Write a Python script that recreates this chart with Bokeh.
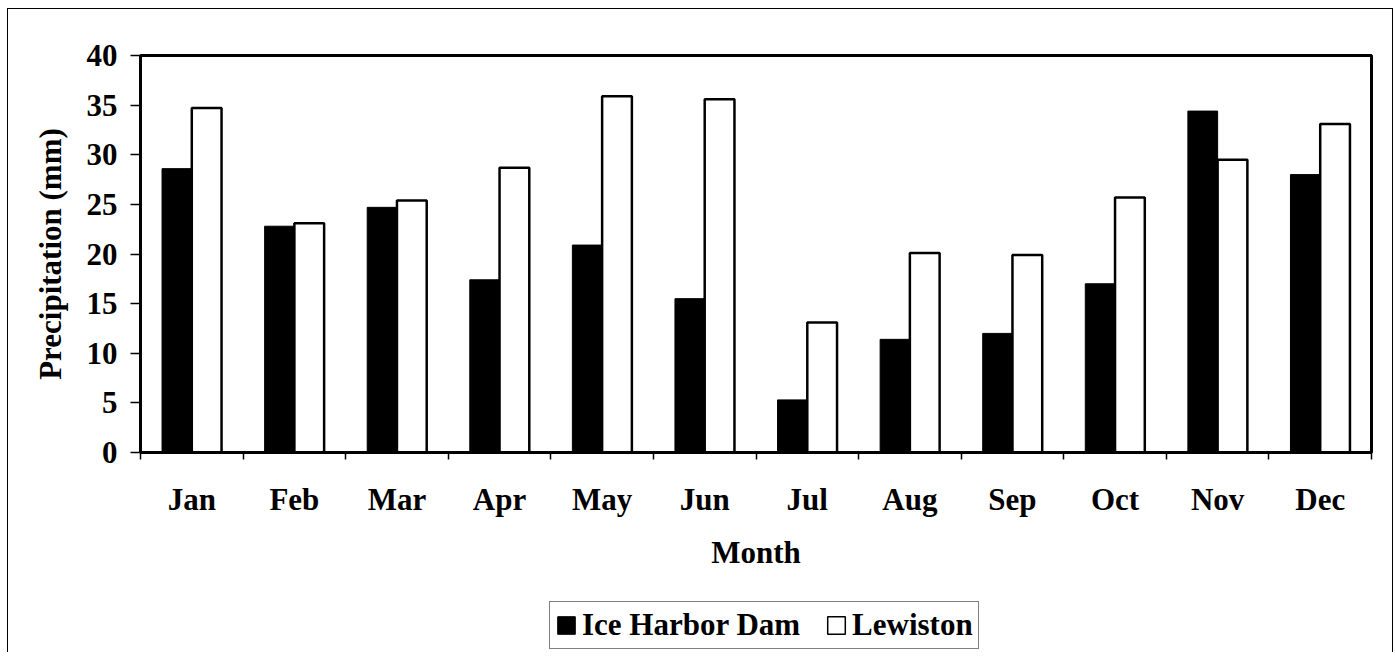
import numpy as np
from bokeh.plotting import figure
from bokeh.layouts import column
from bokeh.models import Range1d, FixedTicker, Legend, LegendItem, ColumnDataSource
from bokeh.embed import file_html
from bokeh.resources import INLINE

months = ["Jan", "Feb", "Mar", "Apr", "May", "Jun", "Jul", "Aug", "Sep", "Oct", "Nov", "Dec"]
ice_harbor = [28.6, 22.8, 24.7, 17.4, 20.9, 15.5, 5.3, 11.4, 12.0, 17.0, 34.4, 28.0]
lewiston = [34.7, 23.1, 25.4, 28.7, 35.9, 35.6, 13.1, 20.1, 19.9, 25.7, 29.5, 33.1]
y_ticks = [0, 5, 10, 15, 20, 25, 30, 35, 40]

FONT = "Liberation Serif"
FS = "31px"
BAR_W = 0.29

centers = np.arange(len(months)) + 0.5
src = ColumnDataSource(dict(
    xi=centers - BAR_W / 2, xl=centers + BAR_W / 2,
    ice=ice_harbor, lew=lewiston,
))

p = figure(frame_width=1231, frame_height=397, output_backend="svg", toolbar_location=None,
           x_range=Range1d(0, len(months)), y_range=Range1d(0, 40),
           min_border_left=132, min_border_right=21, min_border_top=46, min_border_bottom=120)

p.vbar(x="xi", top="ice", width=BAR_W, source=src, fill_color="black", line_color="black", line_width=1)
p.vbar(x="xl", top="lew", width=BAR_W, source=src, fill_color="white", line_color="black", line_width=2.5)

p.xgrid.visible = False
p.ygrid.visible = False
p.outline_line_color = "black"
p.outline_line_width = 3

# y axis
ya = p.yaxis[0]
ya.ticker = FixedTicker(ticks=y_ticks)
ya.minor_tick_line_color = None
ya.major_tick_out = 10
ya.major_tick_in = 0
ya.major_tick_line_width = 1.5
ya.axis_line_width = 2
ya.major_label_text_font = FONT
ya.major_label_text_font_style = "bold"
ya.major_label_text_font_size = FS
ya.major_label_text_color = "black"
ya.major_label_standoff = 13
ya.axis_label = "Precipitation (mm)"
ya.axis_label_text_font = FONT
ya.axis_label_text_font_style = "bold"
ya.axis_label_text_font_size = FS
ya.axis_label_text_color = "black"
ya.axis_label_standoff = 16

# x axis
xa = p.xaxis[0]
xa.ticker = FixedTicker(ticks=list(centers), minor_ticks=list(range(len(months) + 1)))
xa.major_label_overrides = {float(c): m for c, m in zip(centers, months)}
xa.major_tick_line_color = None
xa.major_tick_out = 0
xa.major_tick_in = 0
xa.minor_tick_out = 7
xa.minor_tick_in = 0
xa.minor_tick_line_width = 1.5
xa.axis_line_width = 3
xa.major_label_text_font = FONT
xa.major_label_text_font_style = "bold"
xa.major_label_text_font_size = FS
xa.major_label_text_color = "black"
xa.major_label_standoff = 22
xa.axis_label = "Month"
xa.axis_label_text_font = FONT
xa.axis_label_text_font_style = "bold"
xa.axis_label_text_font_size = FS
xa.axis_label_text_color = "black"
xa.axis_label_standoff = 15

# legend strip below the chart (hidden renderers, used only for the legend swatches)
q = figure(width=1384, height=80, output_backend="svg", toolbar_location=None,
           x_range=Range1d(0, len(months)), y_range=Range1d(0, 40),
           min_border=0, x_axis_location=None, y_axis_location=None)
q.outline_line_color = None
q.xgrid.visible = False
q.ygrid.visible = False
l1 = q.vbar(x="xi", top="ice", width=BAR_W, source=src, fill_color="black", line_color="black", line_width=1)
l2 = q.vbar(x="xl", top="lew", width=BAR_W, source=src, fill_color="white", line_color="black", line_width=1.5)
l1.visible = False
l2.visible = False

legend = Legend(items=[LegendItem(label="Ice Harbor Dam", renderers=[l1]),
                       LegendItem(label="Lewiston", renderers=[l2])],
                location=(409, 3), orientation="horizontal", click_policy="none",
                border_line_color="black", border_line_width=1,
                label_text_font=FONT, label_text_font_style="bold", label_text_font_size=FS,
                label_text_color="black",
                glyph_width=22, glyph_height=22, label_standoff=5, spacing=25,
                padding=5, margin=0, background_fill_alpha=1)
q.add_layout(legend, "center")

layout = column(p, q, spacing=0)
layout.styles = {"border-top": "1px solid #000", "border-left": "1px solid #000",
                 "border-right": "1px solid #000", "margin": "8px 0 0 7px"}

open("out.html", "w").write(file_html(layout, INLINE))
